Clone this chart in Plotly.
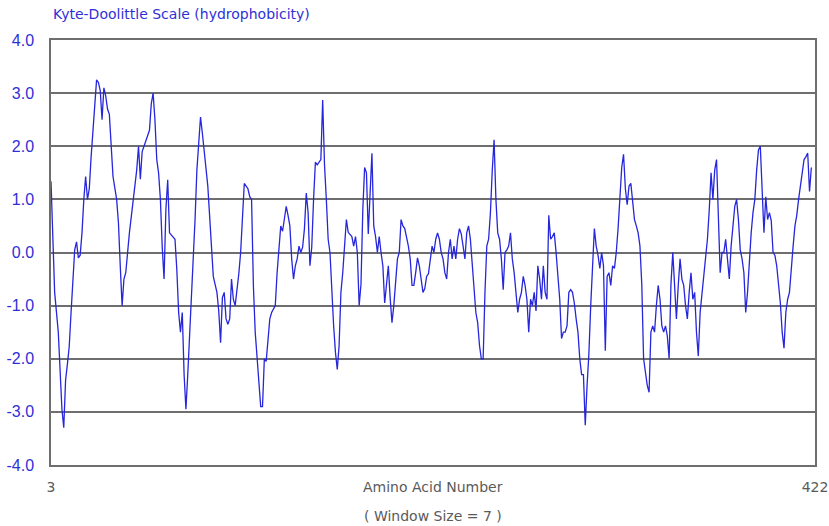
import plotly.graph_objects as go

# Residue numbers (amino acid number) and Kyte-Doolittle hydrophobicity
residues = [
    3, 5, 7, 8, 9, 10, 11, 12, 13, 14, 15, 16, 17, 18, 19, 20, 21, 22, 23, 24, 25, 26, 27, 28, 29, 30,
    31, 32, 33, 34, 35, 36, 37, 39, 40, 41, 42, 43, 44, 46, 48, 50, 51, 52, 53, 55, 57, 58, 59, 60,
    61, 62, 63, 64, 65, 66, 67, 68, 70, 71, 72, 73, 74, 75, 76, 77, 78, 80, 82, 83, 84, 85, 86, 87,
    89, 91, 92, 94, 95, 96, 97, 98, 99, 100, 101, 102, 103, 104, 105, 106, 107, 108, 109, 111, 112,
    113, 114, 115, 116, 117, 118, 119, 120, 121, 122, 123, 124, 126, 127, 128, 129, 130, 131, 132,
    133, 134, 135, 136, 137, 138, 139, 140, 141, 142, 143, 144, 145, 146, 147, 148, 149, 150, 151,
    152, 153, 154, 155, 156, 157, 158, 159, 160, 161, 162, 163, 164, 165, 166, 168, 169, 170,
    171, 172, 173, 174, 175, 176, 177, 178, 179, 180, 181, 182, 183, 184, 185, 186, 187, 188, 189,
    190, 191, 192, 193, 194, 195, 196, 197, 199, 200, 201, 202, 203, 204, 205, 206, 207, 208, 209,
    210, 211, 212, 213, 214, 215, 216, 217, 218, 219, 220, 221, 222, 223, 224, 225, 226, 227,
    228, 229, 230, 231, 232, 233, 234, 235, 236, 237, 238, 239, 240, 241, 242, 243, 244, 245, 246,
    247, 248, 249, 250, 251, 252, 253, 254, 255, 256, 257, 258, 259, 260, 261, 262, 263, 264, 265,
    266, 267, 268, 269, 270, 271, 272, 273, 274, 275, 276, 277, 278, 279, 280, 281, 282, 283, 284,
    285, 286, 287, 288, 289, 290, 291, 292, 293, 294, 295, 296, 297, 298, 299, 300, 301, 302, 303,
    304, 305, 306, 307, 308, 309, 310, 311, 312, 313, 314, 315, 316, 317, 318, 319, 320, 321, 322,
    323, 324, 325, 326, 327, 328, 329, 330, 331, 332, 333, 334, 335, 336, 337, 338, 339, 340, 341,
    342, 343, 344, 345, 346, 347, 348, 349, 350, 351, 352, 353, 354, 355, 356, 357, 358, 359, 360,
    361, 362, 363, 364, 365, 366, 367, 368, 369, 370, 371, 372, 373, 374, 375, 376, 377, 378, 379,
    380, 381, 382, 383, 384, 385, 386, 387, 388, 389, 390, 391, 392, 393, 394, 395, 396, 397, 398,
    399, 400, 401, 402, 403, 404, 405, 406, 407, 408, 409, 410, 411, 412, 413, 414, 415, 416, 417,
    418, 419, 420,
]

hydrophobicity = [
    1.34, -0.75, -1.5, -2.25, -2.95, -3.3, -2.4, -2.1, -1.77, -1.13, -0.45, 0.05, 0.2, -0.1, -0.05, 0.37, 1.0, 1.43, 1.0, 1.2, 1.8, 2.3, 2.87, 3.25, 3.2, 3.05,
    2.5, 3.1, 2.95, 2.7, 2.6, 2.07, 1.43, 1.0, 0.55, -0.27, -1.0, -0.5, -0.38, 0.37, 1.0, 1.55, 2.0, 1.38, 1.9, 2.1, 2.3, 2.8, 3.0, 2.5,
    1.75, 1.5, 1.0, 0.1, -0.5, 0.8, 1.37, 0.37, 0.3, 0.25, -0.32, -1.13, -1.5, -1.13, -2.3, -2.95, -2.3, -0.88, 0.62, 1.55, 2.0, 2.55, 2.25, 1.95,
    1.25, 0.12, -0.45, -0.75, -1.1, -1.7, -0.85, -0.75, -1.25, -1.35, -1.25, -0.5, -0.88, -1.0, -0.75, -0.4, 0.0, 0.62, 1.3, 1.2, 1.05,
    1.0, -0.63, -1.5, -2.0, -2.3, -2.9, -2.9, -2.0, -2.05, -1.57, -1.25, -1.13, -1.0, -0.38, 0.1, 0.5, 0.4, 0.62, 0.87,
    0.7, 0.5, -0.12, -0.5, -0.25, -0.12, 0.12, 0.0, 0.1, 0.45, 1.12, 0.75, -0.25, 0.1, 1.0, 1.7, 1.65, 1.7, 1.75,
    2.87, 1.65, 1.0, 0.25, 0.0, -0.75, -1.38, -1.88, -2.2, -1.75, -0.75, -0.38, 0.25, 0.62, 0.38, 0.3, 0.12, 0.3,
    0.0, -1.0, -0.6, 0.8, 1.6, 1.5, 0.35, 1.25, 1.87, 0.5, 0.3, 0.0, 0.3, 0.0, -0.25, -0.95, -0.62, -0.25, -0.85,
    -1.32, -1.0, -0.62, -0.12, 0.0, 0.62, 0.5, 0.45, 0.12, -0.12, -0.62, -0.62, -0.38, -0.1, -0.25, -0.5, -0.75, -0.68, -0.45,
    -0.4, -0.12, 0.12, 0.0, 0.25, 0.37, 0.25, 0.0, -0.12, -0.38, -0.5, 0.0, 0.25, -0.12, 0.12, -0.12, 0.25, 0.45,
    0.35, 0.12, -0.12, 0.37, 0.5, 0.25, -0.25, -0.62, -1.13, -1.32, -1.75, -2.0, -2.0, -0.75, 0.12, 0.25, 0.75, 1.55, 2.12,
    1.0, 0.37, 0.25, -0.12, -0.7, 0.0, 0.05, 0.12, 0.37, -0.12, -0.38, -0.75, -1.13, -0.88, -0.75, -0.45, -0.62, -0.88, -1.5,
    -0.88, -1.0, -0.75, -1.1, -0.25, -0.5, -0.88, -0.25, -0.75, -0.88, 0.7, 0.25, 0.3, 0.37, 0.0, -0.38, -0.88, -1.62, -1.5,
    -1.5, -1.38, -0.75, -0.7, -0.75, -0.95, -1.25, -1.5, -2.0, -2.3, -2.3, -3.25, -2.5, -1.9, -1.0, -0.12, 0.45, 0.12, -0.05,
    -0.3, 0.0, -0.25, -1.85, -0.45, -0.38, -0.62, -0.25, -0.3, 0.0, 0.45, 1.0, 1.6, 1.85, 1.2, 0.9, 1.25, 1.3, 1.0,
    0.62, 0.5, 0.37, 0.12, -0.6, -2.0, -2.25, -2.5, -2.63, -1.5, -1.38, -1.5, -1.0, -0.62, -0.88, -1.38, -1.5, -1.38, -1.57,
    -2.0, -0.6, 0.0, -0.62, -1.25, -0.62, -0.12, -0.5, -0.62, -1.0, -1.25, -0.75, -0.38, -0.88, -0.75, -1.5, -1.95, -1.13, -0.75,
    -0.38, -0.12, 0.25, 0.8, 1.5, 1.0, 1.55, 1.75, 0.62, -0.38, 0.0, 0.0, 0.25, -0.12, -0.5, 0.12, 0.45, 0.87, 1.0,
    0.62, 0.05, -0.12, -0.38, -1.13, -0.75, -0.12, 0.37, 0.75, 1.0, 1.55, 1.93, 2.0, 1.12, 0.37, 1.05, 0.62, 0.75, 0.6,
    0.0, -0.05, -0.25, -0.62, -0.95, -1.5, -1.8, -1.13, -0.88, -0.75, -0.25, 0.12, 0.5, 0.7, 1.0, 1.25, 1.45, 1.75, 1.8,
    1.87, 1.15, 1.6,
]

y_ticks = [-4, -3, -2, -1, 0, 1, 2, 3, 4]
y_tick_text = ["-4.0", "-3.0", "-2.0", "-1.0", "0.0", "1.0", "2.0", "3.0", "4.0"]
x_ticks = [3, 422]
x_tick_text = ["3", "422"]

title_text = "Kyte-Doolittle Scale (hydrophobicity)"
x_title = "Amino Acid Number"
x_subtitle = "( Window Size = 7 )"

BLUE = "#2f2fd8"
GRID = "#6e6e6e"
GREY_TEXT = "#5a5a5a"

fig = go.Figure()
fig.add_trace(go.Scatter(
    x=residues, y=hydrophobicity, mode="lines",
    line=dict(color="#2626dc", width=1.3),
    hoverinfo="x+y", showlegend=False,
))

fig.update_layout(
    width=829, height=526,
    margin=dict(l=51, r=14, t=40, b=61, autoexpand=False),
    paper_bgcolor="white", plot_bgcolor="white",
    font=dict(family="DejaVu Sans", size=14, color=GREY_TEXT),
    annotations=[
        dict(text=title_text, xref="paper", yref="paper", x=0, y=1,
             xanchor="left", yanchor="bottom", yshift=16, showarrow=False,
             font=dict(family="DejaVu Sans", size=14, color=BLUE)),
        dict(text=x_title, xref="paper", yref="paper", x=0.5, y=0,
             xanchor="center", yanchor="middle", yshift=-22, showarrow=False,
             font=dict(family="DejaVu Sans", size=14, color=GREY_TEXT)),
        dict(text=x_subtitle, xref="paper", yref="paper", x=0.5, y=0,
             xanchor="center", yanchor="middle", yshift=-51, showarrow=False,
             font=dict(family="DejaVu Sans", size=14, color=GREY_TEXT)),
    ],
)

fig.update_xaxes(
    range=[3, 422], tickvals=x_ticks, ticktext=x_tick_text, automargin=False,
    showgrid=False, zeroline=False, showline=True, mirror=True,
    linecolor=GRID, linewidth=1.5, ticks="", ticklabelstandoff=8,
    tickfont=dict(family="DejaVu Sans", size=14, color=GREY_TEXT),
)
fig.update_yaxes(
    range=[-4, 4], tickvals=y_ticks, ticktext=y_tick_text, automargin=False,
    showgrid=True, gridcolor=GRID, gridwidth=1.5, zeroline=False,
    showline=True, mirror=True, linecolor=GRID, linewidth=1.5,
    ticks="", ticklabelstandoff=12,
    tickfont=dict(family="Liberation Sans", size=16, color=BLUE),
)

fig.write_html(
    "out.html",
    config={"displayModeBar": False},
    post_script="document.body.style.margin='0';document.body.style.overflow='hidden';",
)
